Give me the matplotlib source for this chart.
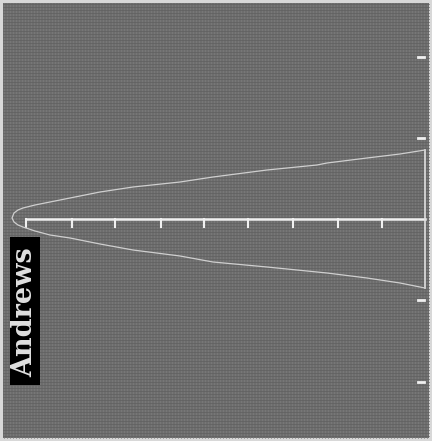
import numpy as np
import matplotlib
matplotlib.use('Agg')
import matplotlib.pyplot as plt

# curve (pixel-like units, y grows downward)
curve_x = [12, 14, 18, 23, 35, 50, 70, 100, 133, 180, 213, 267, 277, 317, 327, 367, 400, 425]
upper_y = [218, 213, 210, 208, 205, 202, 198, 192, 187, 182, 177, 170, 169, 165, 163, 158, 154, 150]
lower_y = [218, 222, 225, 227, 231, 235, 238, 244, 250, 256, 262, 267, 268, 272, 273, 278, 283, 288]

axis_y = 219
axis_x0, axis_x1 = 26, 425
tick_x = [26, 72, 115, 161, 204, 248, 293, 338, 382]
side_ticks_y = [57, 138, 300, 382]
label = 'Andrews'

fig = plt.figure(figsize=(4.32, 4.41), dpi=100)
ax = fig.add_axes([0, 0, 1, 1])
ax.set_xlim(0, 432)
ax.set_ylim(441, 0)
ax.axis('off')
fig.patch.set_facecolor('#d8d8d8')
ax.add_patch(plt.Rectangle((3, 3), 426, 435, facecolor='#6d6d6d', edgecolor='none', zorder=0))

# fine screen grid
for gx in np.arange(4, 429, 3):
    ax.plot([gx, gx], [3, 438], color='#7c7c7c', lw=0.5, zorder=1)
for gy in np.arange(4, 438, 3):
    ax.plot([3, 429], [gy, gy], color='#606060', lw=0.5, zorder=1)

# axis with ticks
ax.plot([axis_x0, axis_x1], [axis_y, axis_y], color='#f0f0f0', lw=1.8, zorder=3)
for tx in tick_x:
    ax.plot([tx, tx], [axis_y, axis_y + 8], color='#f0f0f0', lw=1.5, zorder=3)
ax.plot([axis_x1, axis_x1], [upper_y[-1], lower_y[-1]], color='#e0e0e0', lw=1.2, zorder=3)

# curve
xs = curve_x[::-1] + curve_x[1:]
ys = upper_y[::-1] + lower_y[1:]
ax.plot(xs, ys, color='#cfcfcf', lw=0.9, zorder=3)

for sy in side_ticks_y:
    ax.plot([418, 424], [sy, sy], color='#f0f0f0', lw=2, zorder=3)

ax.add_patch(plt.Rectangle((10, 237), 30, 148, facecolor='black', edgecolor='none', zorder=4))
ax.text(25, 312, label, rotation=90, ha='center', va='center', color='#e0e0e0',
        family='DejaVu Serif', fontweight='bold', fontsize=19.5, zorder=5)

fig.savefig('out.png', dpi=100)
